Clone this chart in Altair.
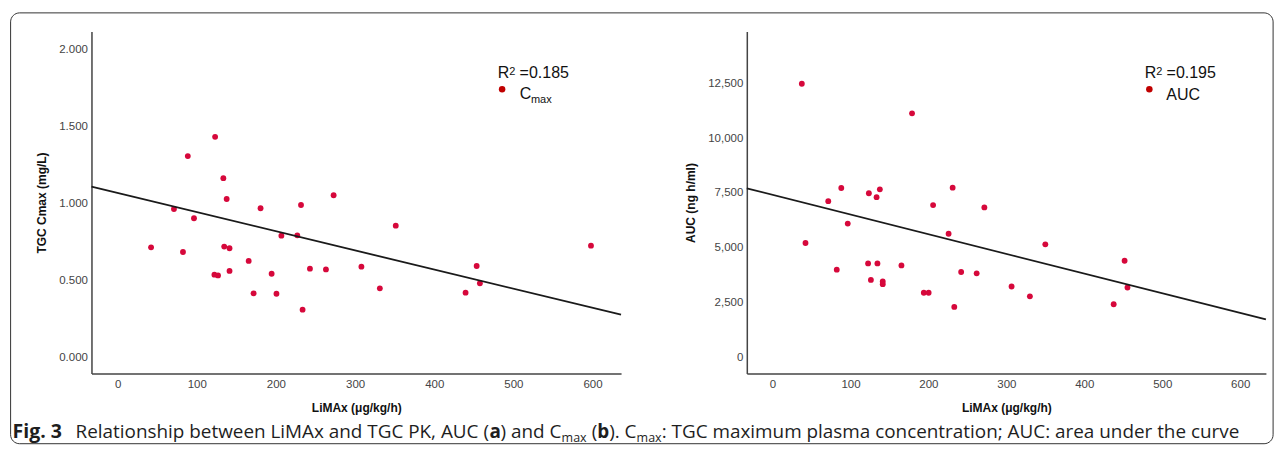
import altair as alt
import pandas as pd

# ---------------- data ----------------
# Panel (left): LiMAx vs TGC Cmax (mg/L)
cmax_limax = [42.3, 71.2, 82.6, 88.7, 96.5, 122.3, 123.2, 126.9, 133.6, 134.7,
              137.8, 141.4, 141.4, 165.6, 171.8, 180.6, 194.6, 200.7, 206.9, 227.0,
              231.7, 233.7, 243.0, 263.2, 272.9, 308.0, 331.3, 351.4, 439.6, 453.6,
              457.7, 598.0]
cmax_values = [0.714, 0.963, 0.684, 1.306, 0.903, 0.537, 1.431, 0.532, 1.163, 0.719,
               1.028, 0.708, 0.561, 0.626, 0.416, 0.968, 0.543, 0.413, 0.790, 0.792,
               0.989, 0.310, 0.576, 0.571, 1.052, 0.589, 0.448, 0.855, 0.420, 0.593,
               0.481, 0.725]
cmax_fit_x = [-33, 636]
cmax_fit_y = [1.108, 0.277]

# Panel (right): LiMAx vs AUC (ng h/ml)
auc_limax = [37.6, 42.3, 71.5, 82.4, 88.2, 96.5, 122.6, 123.6, 126.2, 133.5,
             134.6, 137.7, 141.4, 141.4, 165.4, 179.0, 194.1, 200.3, 206.0, 225.9,
             231.1, 233.2, 242.0, 261.9, 271.8, 306.7, 330.2, 350.0, 437.7, 451.7,
             455.4]
auc_values = [12480, 5215, 7124, 3998, 7725, 6102, 4284, 7485, 3532, 7305,
              4284, 7665, 3457, 3337, 4193, 11130, 2946, 2946, 6944, 5636,
              7740, 2300, 3893, 3833, 6839, 3231, 2781, 5155, 2420, 4404,
              3186]
auc_fit_x = [-33, 633]
auc_fit_y = [7710, 1728]

x_ticks = [0, 100, 200, 300, 400, 500, 600]
cmax_ticks = [0.0, 0.5, 1.0, 1.5, 2.0]
auc_ticks = [0, 2500, 5000, 7500, 10000, 12500]

cmax_r2 = "=0.185"
auc_r2 = "=0.195"
x_title = "LiMAx (\u03bcg/kg/h)"

# caption: (text, weight, subscript)
caption_fig = "Fig. 3"
caption_segments = [
    ("Relationship between LiMAx and TGC PK, AUC (", "normal", False),
    ("a", "bold", False),
    (") and C", "normal", False),
    ("max", "normal", True),
    (" (", "normal", False),
    ("b", "bold", False),
    ("). C", "normal", False),
    ("max", "normal", True),
    (": TGC maximum plasma concentration; AUC: area under the curve", "normal", False),
]

POINT_COLOR = "#d6083b"
LEGEND_COLOR = "#c00000"
AX_FONT = "Liberation Sans"
CAP_FONT = "Open Sans"
CAP_SIZE = 18.9
SUB_SIZE = 12.5

# approximate Open Sans advance widths (units per 2048 em), used to chain caption pieces
W = {"R": 1300, "e": 1149, "l": 518, "a": 1139, "t": 723, "i": 518, "o": 1237, "n": 1257,
     "s": 977, "h": 1257, "p": 1255, "b": 1255, "w": 1593, "L": 1094, "M": 1823, "A": 1296,
     "x": 1073, "d": 1255, "T": 1147, "G": 1455, "C": 1292, "P": 1233, "K": 1268, "U": 1479,
     ",": 500, "(": 608, ")": 608, ".": 545, ":": 545, ";": 545, " ": 532, "m": 1905,
     "u": 1257, "c": 975, "r": 836, "v": 1026, "g": 1122, "f": 694, "k": 1073, "y": 1028}
WB = {"a": 1200, "b": 1290}

OX, OY = 90.9, 30.7          # page position of left plot origin
CAP_BASE = 436.8             # caption baseline (page)
CAP_START = 75.0


def text_width(s, size, bold=False):
    table = WB if bold else W
    return sum(table.get(ch, W.get(ch, 1100)) for ch in s) / 2048.0 * size


def one_row():
    return pd.DataFrame({"k": [0]})


def panel(xs, ys, fx, fy, xdom, ydom, yticks, yfmt, ytitle):
    pts = pd.DataFrame({"limax": xs, "v": ys})
    fit = pd.DataFrame({"limax": fx, "v": fy})
    xenc = alt.X("limax:Q",
                 scale=alt.Scale(domain=xdom, nice=False, zero=False),
                 axis=alt.Axis(values=x_ticks, title=x_title, labelPadding=5.5,
                               titlePadding=12.5, format="d"))
    yenc = alt.Y("v:Q",
                 scale=alt.Scale(domain=ydom, nice=False, zero=False),
                 axis=alt.Axis(values=yticks, title=ytitle, format=yfmt,
                               labelPadding=4, titlePadding=10.5))
    points = alt.Chart(pts).mark_circle(size=34, opacity=1, color=POINT_COLOR).encode(
        x=xenc, y=yenc)
    line = alt.Chart(fit).mark_line(color="#1a1a1a", strokeWidth=1.8).encode(
        x=alt.X("limax:Q"), y=alt.Y("v:Q"))
    return points, line


def txt(text, x, y, size=16, weight="normal", font=AX_FONT, align="left", color="#111111"):
    return alt.Chart(one_row()).mark_text(
        text=text, align=align, baseline="alphabetic", font=font, fontSize=size,
        fontWeight=weight, color=color).encode(x=alt.value(x), y=alt.value(y))


def dot(x, y):
    return alt.Chart(one_row()).mark_circle(size=42, opacity=1, color=LEGEND_COLOR).encode(
        x=alt.value(x), y=alt.value(y))


LW, RW, H = 529.8, 519.3, 342

lp, ll = panel(cmax_limax, cmax_values, cmax_fit_x, cmax_fit_y, [-33, 636],
               [-0.104, 2.114], cmax_ticks, ".3f", "TGC Cmax (mg/L)")
rp, rl = panel(auc_limax, auc_values, auc_fit_x, auc_fit_y, [-33, 633],
               [-736, 14860], auc_ticks, ",.0f", "AUC (ng h/ml)")

frame = alt.Chart(one_row()).mark_rect(
    fillOpacity=0, stroke="#333333", strokeWidth=1, cornerRadius=9).encode(
    x=alt.value(10 - OX), x2=alt.value(1273 - OX),
    y=alt.value(12 - OY), y2=alt.value(443 - OY))

caption_layers = [txt(caption_fig, 12 - OX, CAP_BASE - OY, size=19.5, weight="bold",
                      font=CAP_FONT, color="#1e1e1e")]
cx = CAP_START
for text, weight, sub in caption_segments:
    size = SUB_SIZE if sub else CAP_SIZE
    bold = weight == "bold"
    lead = len(text) - len(text.lstrip(" "))
    shown = text.strip(" ")
    x0 = cx + text_width(" " * lead, size)
    yb = CAP_BASE + (4.5 if sub else 0.0)
    caption_layers.append(txt(shown, x0 - OX, yb - OY, size=size, weight=weight,
                              font=CAP_FONT, color="#1e1e1e"))
    cx += text_width(text, size, bold)

left = alt.layer(
    frame, lp, ll,
    txt("R", 406.4, 46.6),
    txt("2", 418.0, 43.3, size=11),
    txt(cmax_r2, 428.3, 46.6),
    dot(410.8, 57.6),
    txt("C", 428.4, 67.6),
    txt("max", 439.6, 71.6, size=11),
    *caption_layers,
).properties(width=LW, height=H)

right = alt.layer(
    rp, rl,
    txt("R", 398.0, 46.6),
    txt("2", 409.6, 43.3, size=11),
    txt(auc_r2, 419.9, 46.6),
    dot(402.7, 57.6),
    txt("AUC", 419.7, 68.6),
).properties(width=RW, height=H)

chart = alt.hconcat(left, right, spacing=125.6, bounds="flush").properties(
    padding={"left": 1.5, "top": 3.5, "right": 0, "bottom": 0}
).configure_view(stroke=None).configure_axis(
    grid=False, ticks=False, tickSize=0,
    domainColor="#444444", domainWidth=1.5,
    labelFont=AX_FONT, labelFontSize=11.5, labelColor="#444444",
    titleFont=AX_FONT, titleFontSize=12, titleFontWeight="bold", titleColor="#111111",
)

chart.save("out.html", embed_options={"renderer": "svg", "actions": False})
